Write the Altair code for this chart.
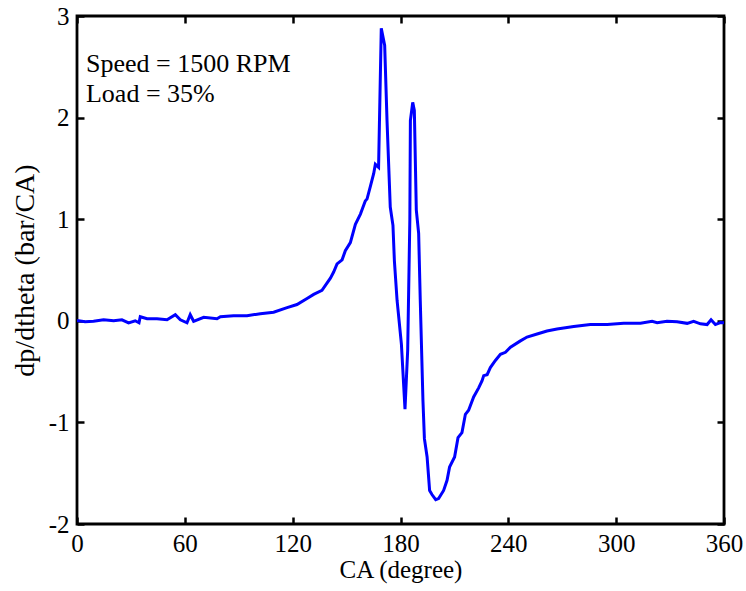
import altair as alt
import pandas as pd

# crank angle (degree) and pressure-rise rate (bar/CA)
ca = [0, 0.9, 4.5, 9.2, 14.8, 20.4, 25.0, 28.7, 32.4, 34.5, 35.2, 39.0, 44.5, 50.1,
      54.7, 57.5, 61.2, 63.0, 64.9, 70.5, 77.9, 79.8, 87.1, 94.6, 102.0, 109.4,
      116.9, 122.4, 128.0, 131.7, 136.3, 141.0, 142.8, 144.7, 147.5, 149.3, 152.1,
      154.9, 157.7, 160.4, 161.4, 163.2, 165.1, 166.0, 167.8, 169.3, 170.3, 171.2,
      172.5, 174.3, 175.8, 176.6, 178.1, 180.5, 182.5, 184.0, 185.2, 185.5, 186.8,
      187.7, 188.8, 190.1, 191.0, 192.5, 193.3, 194.8, 196.2, 197.5, 199.6, 201.2,
      204.0, 205.9, 207.3, 210.1, 212.0, 214.2, 216.1, 217.9, 220.7, 223.5, 225.4,
      226.3, 228.2, 230.0, 232.8, 235.6, 238.4, 241.2, 246.5, 250.4, 256.0, 261.5,
      267.1, 276.4, 285.6, 295.0, 304.2, 313.5, 320.0, 322.8, 328.3, 333.9, 339.5,
      343.1, 346.9, 350.6, 352.8, 355.2, 358.0, 360.0]
dpdtheta = [0.0, 0.0, -0.01, -0.005, 0.01, 0.0, 0.01, -0.02, 0.0, -0.02, 0.04, 0.02,
            0.02, 0.01, 0.06, 0.01, -0.02, 0.06, -0.005, 0.035, 0.02, 0.04, 0.05,
            0.05, 0.07, 0.085, 0.13, 0.16, 0.22, 0.26, 0.30, 0.42, 0.48, 0.56, 0.60,
            0.69, 0.77, 0.95, 1.05, 1.18, 1.20, 1.32, 1.45, 1.54, 1.51, 2.88, 2.79,
            2.71, 1.97, 1.12, 0.94, 0.59, 0.20, -0.23, -0.87, -0.29, 1.00, 1.97, 2.15,
            2.07, 1.09, 0.86, 0.20, -0.79, -1.16, -1.34, -1.67, -1.71, -1.76, -1.75,
            -1.67, -1.57, -1.44, -1.34, -1.15, -1.10, -0.92, -0.88, -0.75, -0.66,
            -0.59, -0.54, -0.53, -0.46, -0.39, -0.33, -0.31, -0.26, -0.20, -0.16,
            -0.13, -0.10, -0.08, -0.057, -0.037, -0.037, -0.025, -0.025, -0.005,
            -0.018, -0.005, -0.01, -0.025, -0.005, -0.03, -0.037, 0.01, -0.037,
            -0.018, -0.02]

x_ticks = [0, 60, 120, 180, 240, 300, 360]
y_ticks = [-2, -1, 0, 1, 2, 3]

note_text = ["Speed = 1500 RPM", "Load = 35%"]
note_x = [5.0, 5.0]
note_y = [2.448, 2.152]

df = pd.DataFrame({"ca": ca, "v": dpdtheta})
notes = pd.DataFrame({"t": note_text, "x": note_x, "y": note_y})

FONT = "Liberation Serif"
xs = alt.Scale(domain=[0, 360], nice=False, zero=False)
ys = alt.Scale(domain=[-2, 3], nice=False, zero=False)

common = dict(domain=False, grid=False, tickSize=7, offset=-7, tickWidth=2.5,
              tickColor="black", labelFont=FONT, labelFontSize=25, labelColor="black",
              titleFont=FONT, titleFontWeight="normal", titleColor="black")

x_bottom = alt.Axis(orient="bottom", values=x_ticks, title="CA (degree)",
                    labelPadding=7, titlePadding=1, titleFontSize=25,
                    labelFlush=False, **common)
y_left = alt.Axis(orient="left", values=y_ticks, title="dp/dtheta (bar/CA)",
                  labelPadding=8, titlePadding=9, titleFontSize=28,
                  labelFlush=False, labelExpr="'' + datum.value", **common)
x_top = alt.Axis(orient="top", values=x_ticks, title=None, labels=False, **common)
y_right = alt.Axis(orient="right", values=y_ticks, title=None, labels=False, **common)

frame = alt.Chart(df).mark_line(strokeOpacity=0).encode(
    x=alt.X("ca:Q", scale=xs, axis=x_top),
    y=alt.Y("v:Q", scale=ys, axis=y_right),
)

line = alt.Chart(df).mark_line(color="#0000FF", strokeWidth=3).encode(
    x=alt.X("ca:Q", scale=xs, axis=x_bottom),
    y=alt.Y("v:Q", scale=ys, axis=y_left),
)

text = alt.Chart(notes).mark_text(align="left", baseline="alphabetic", font=FONT,
                                  fontSize=26, color="black").encode(
    x=alt.X("x:Q", scale=xs, axis=None),
    y=alt.Y("y:Q", scale=ys, axis=None),
    text="t:N",
)

chart = alt.layer(frame, line, text).resolve_axis(
    x="independent", y="independent"
).properties(
    width=647, height=508,
    autosize=alt.AutoSizeParams(type="none"),
    padding={"left": 77, "top": 16, "right": 22, "bottom": 67},
).configure_view(stroke="black", strokeWidth=2.8)

chart.save("out.html", embed_options={"renderer": "svg", "actions": False})
